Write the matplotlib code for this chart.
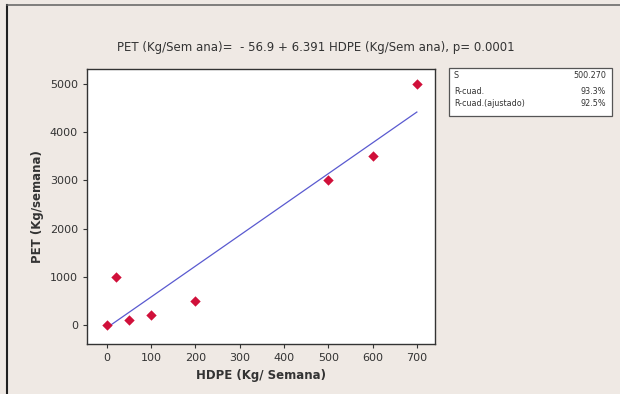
import matplotlib
matplotlib.use("Agg")
import matplotlib.pyplot as plt
import numpy as np
from matplotlib.patches import Rectangle
from matplotlib.lines import Line2D

# Data
hdpe = [0, 20, 50, 100, 200, 500, 600, 700]
pet = [0, 1000, 100, 200, 500, 3000, 3500, 5000]
intercept = -56.9
slope = 6.391
xticks = [0, 100, 200, 300, 400, 500, 600, 700]
yticks = [0, 1000, 2000, 3000, 4000, 5000]
stat_names = ["S", "R-cuad.", "R-cuad.(ajustado)"]
stat_values = ["500.270", "93.3%", "92.5%"]
title = "PET (Kg/Sem ana)=  - 56.9 + 6.391 HDPE (Kg/Sem ana), p= 0.0001"

W, H = 620, 394
bg = "#efe9e4"
fig = plt.figure(figsize=(W / 100, H / 100), dpi=100, facecolor=bg)

def fx(px):
    return px / W

def fy(py):
    return 1 - py / H

# border lines (left and top)
fig.add_artist(Line2D([fx(7), fx(7)], [fy(5), fy(394)], color="#202020", lw=1.5))
fig.add_artist(Line2D([fx(7), fx(620)], [fy(5), fy(5)], color="#606060", lw=1.1))

ax = fig.add_axes([fx(87), fy(344), fx(435) - fx(87), fy(69) - fy(344)])
ax.set_facecolor("white")
ax.scatter(hdpe, pet, marker="D", s=28, color="#d0103a", zorder=3, linewidths=0)
xl = np.array([min(hdpe), max(hdpe)])
ax.plot(xl, intercept + slope * xl, color="#5a5ad0", lw=0.9, zorder=2)
ax.set_xlim(-45, 741)
ax.set_ylim(-395, 5310)
ax.set_xticks(xticks)
ax.set_yticks(yticks)
ax.tick_params(labelsize=8, colors="#333333", length=3, width=0.8)
for s in ax.spines.values():
    s.set_color("#333333")
    s.set_linewidth(1.0)
ax.set_xlabel("HDPE (Kg/ Semana)", fontsize=8.5, fontweight="bold", color="#333333", labelpad=4)
ax.set_ylabel("PET (Kg/semana)", fontsize=8.5, fontweight="bold", color="#333333", labelpad=4)

fig.text(fx(316), fy(48), title, fontsize=8.5, color="#333333", ha="center", va="center")

# stats box
bx0, bx1, by0, by1 = 449, 612, 68, 116
fig.add_artist(Rectangle((fx(bx0), fy(by1)), fx(bx1) - fx(bx0), fy(by0) - fy(by1),
                         facecolor="white", edgecolor="#555555", lw=0.9))
rows_y = [76, 91, 104]
for name, val, ry in zip(stat_names, stat_values, rows_y):
    fig.text(fx(bx0 + 5), fy(ry), name, fontsize=5.8, color="#333333", ha="left", va="center")
    fig.text(fx(bx1 - 6), fy(ry), val, fontsize=5.8, color="#333333", ha="right", va="center")

fig.savefig("out.png", dpi=100, facecolor=bg)
